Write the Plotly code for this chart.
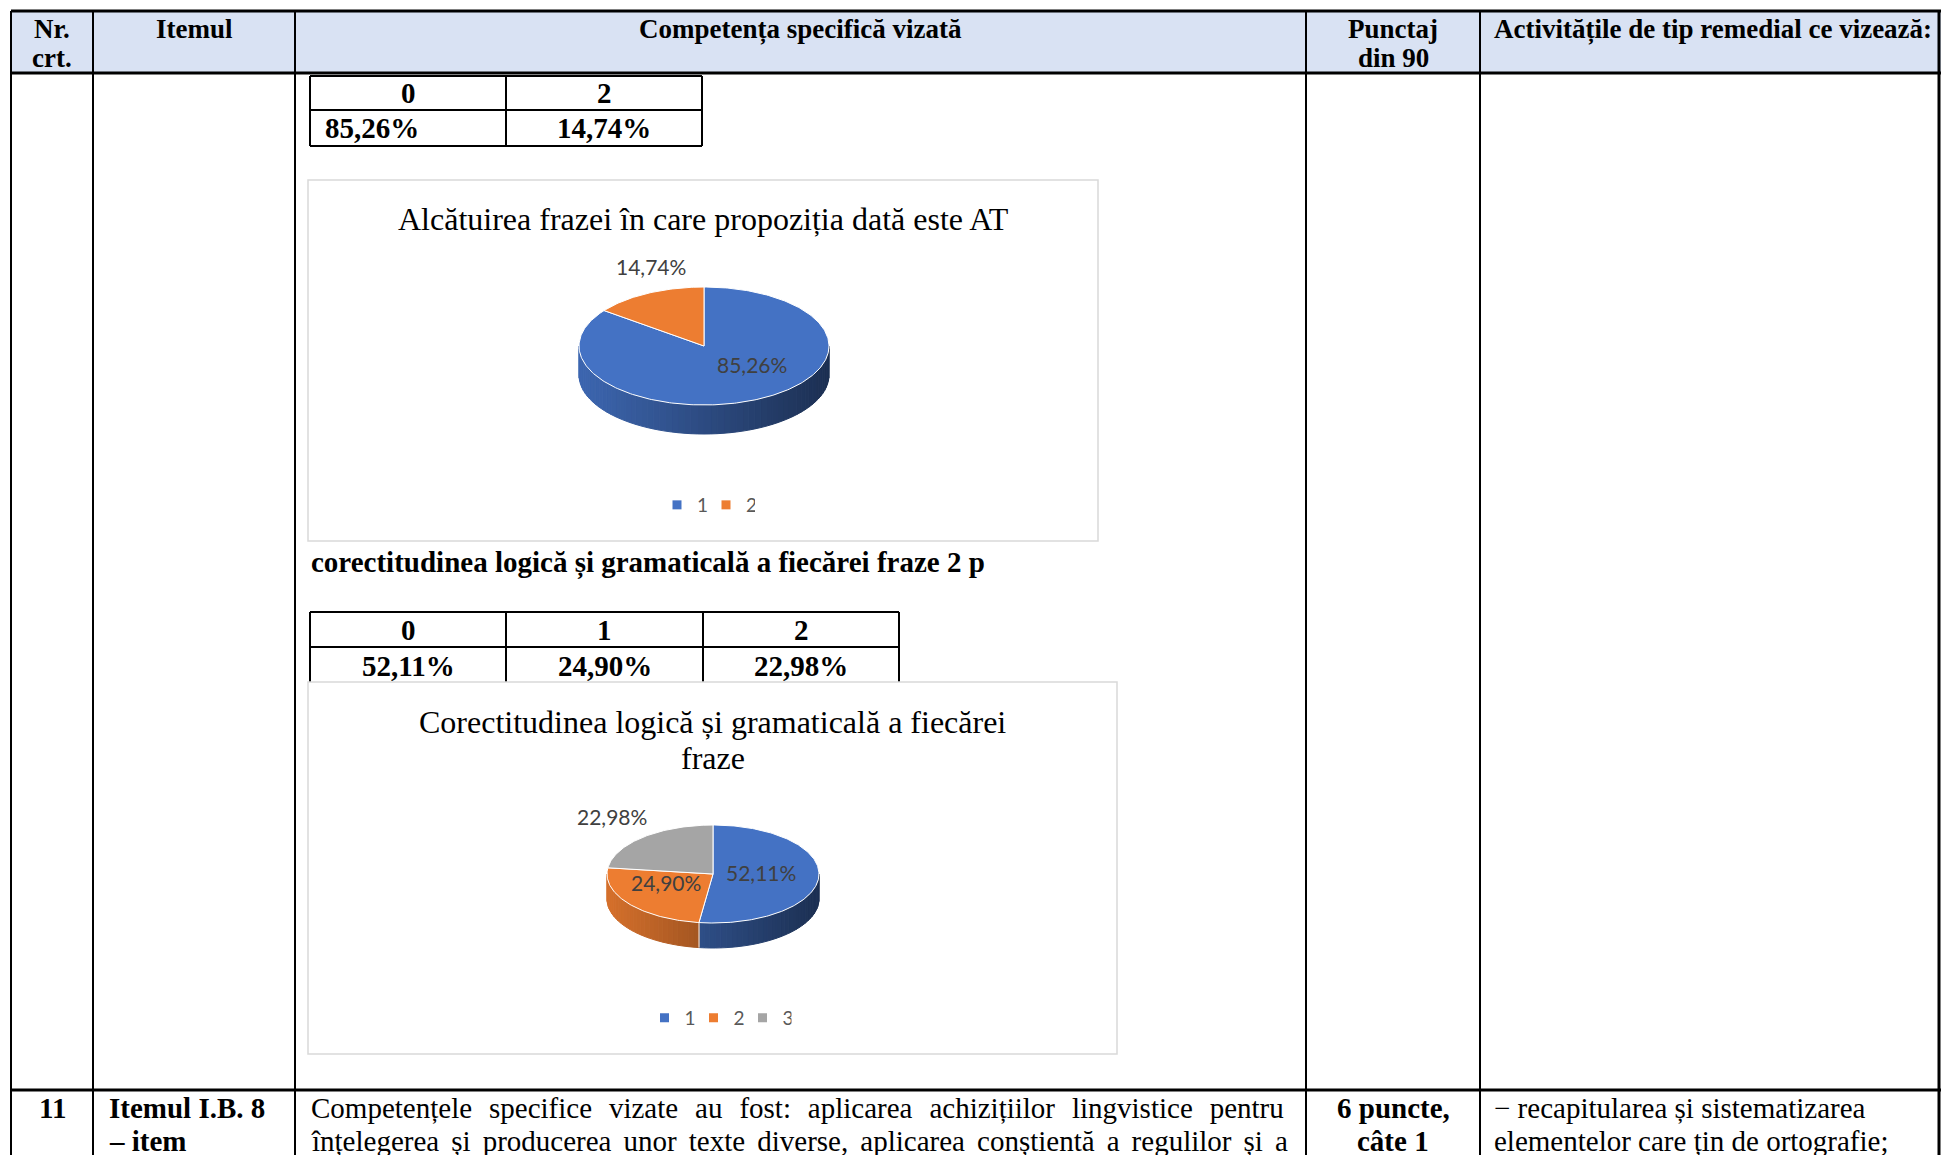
import numpy as np
import plotly.graph_objects as go

W, H = 1941, 1155

# ---------------- data ----------------
header_col1 = ["Nr.", "crt."]
header_col2 = ["Itemul"]
header_col3 = ["Competența specifică vizată"]
header_col4 = ["Punctaj", "din 90"]
header_col5 = ["Activitățile de tip remedial ce vizează:"]

table1_scores = ["0", "2"]
table1_percent = ["85,26%", "14,74%"]

chart1_title = "Alcătuirea frazei în care propoziția dată este AT"
chart1_categories = ["1", "2"]
chart1_values = [85.26, 14.74]

subheading = "corectitudinea logică și gramaticală a fiecărei fraze 2 p"

table2_scores = ["0", "1", "2"]
table2_percent = ["52,11%", "24,90%", "22,98%"]

chart2_title_lines = ["Corectitudinea logică și gramaticală a fiecărei", "fraze"]
chart2_categories = ["1", "2", "3"]
chart2_values = [52.11, 24.90, 22.98]

row11_nr = "11"
row11_item = ["Itemul I.B. 8", "– item"]
row11_comp = ["Competențele specifice vizate au fost: aplicarea achizițiilor lingvistice pentru",
              "înțelegerea și producerea unor texte diverse, aplicarea conștientă a regulilor și a"]
row11_points = ["6 puncte,", "câte 1"]
row11_remedial = ["− recapitularea și sistematizarea", "elementelor care țin de ortografie;"]

# ---------------- style ----------------
SERIF = "Liberation Serif"
SANS = "Lato"
PIE_COLORS = ["#4472C4", "#ED7D31", "#A5A5A5"]
HEADER_BG = "#D9E2F3"
FS_HEAD = 27
FS_BODY = 29
FS_TABLE = 29
# extra inter-word spacing used to imitate the justified paragraph
JUSTIFY_GAPS = ["\u2004", "\u2006"]

fig = go.Figure()
shapes = []
annotations = []


def line(x0, y0, x1, y1, w=2, color="black"):
    shapes.append(dict(type="line", x0=x0, y0=y0, x1=x1, y1=y1, xref="x", yref="y",
                       line=dict(color=color, width=w), layer="below"))


def rect(x0, y0, x1, y1, fill, lc="rgba(0,0,0,0)", lw=0):
    shapes.append(dict(type="rect", x0=x0, y0=y0, x1=x1, y1=y1, xref="x", yref="y",
                       fillcolor=fill, line=dict(color=lc, width=lw), layer="below"))


def text(x, y, t, size=FS_BODY, bold=False, family=SERIF, color="black", xanchor="center"):
    annotations.append(dict(x=x, y=y, xref="x", yref="y", text=f"<b>{t}</b>" if bold else t,
                            showarrow=False, xanchor=xanchor, yanchor="middle",
                            font=dict(family=family, size=size, color=color)))


# ---------------- main table ----------------
cols = [11, 93, 295, 1306, 1480, 1939]
top, head_bot, row_sep = 11, 73, 1090
rect(cols[0], top, W, head_bot, HEADER_BG)
for c in cols[:-1]:
    line(c, top, c, H, 2)
line(cols[-1], top, cols[-1], H, 3)
line(cols[0], top, W, top, 3)
line(cols[0], head_bot, W, head_bot, 3)
line(cols[0], row_sep, W, row_sep, 3)

# header texts
l1, l2 = 29, 58
text((cols[0] + cols[1]) / 2, l1, header_col1[0], size=FS_HEAD, bold=True)
text((cols[0] + cols[1]) / 2, l2, header_col1[1], size=FS_HEAD, bold=True)
text((cols[1] + cols[2]) / 2, l1, header_col2[0], size=FS_HEAD, bold=True)
text((cols[2] + cols[3]) / 2, l1, header_col3[0], size=FS_HEAD, bold=True)
text((cols[3] + cols[4]) / 2, l1, header_col4[0], size=FS_HEAD, bold=True)
text((cols[3] + cols[4]) / 2, l2, header_col4[1], size=FS_HEAD, bold=True)
text(cols[4] + 12, l1, header_col5[0], size=FS_HEAD, bold=True, xanchor="left")

# ---------------- small table 1 ----------------
t1x = [310, 506, 702]
t1y = [76, 110, 146]
line(t1x[0], t1y[0], t1x[-1], t1y[0], 2)
line(t1x[0], t1y[1], t1x[-1], t1y[1], 2)
line(t1x[0], t1y[2], t1x[-1], t1y[2], 2)
for x in t1x:
    line(x, t1y[0], x, t1y[2], 2)
for i, s in enumerate(table1_scores):
    text((t1x[i] + t1x[i + 1]) / 2, (t1y[0] + t1y[1]) / 2, s, size=FS_TABLE, bold=True)
text(t1x[0] + 13, (t1y[1] + t1y[2]) / 2, table1_percent[0], size=FS_TABLE, bold=True, xanchor="left")
text((t1x[1] + t1x[2]) / 2, (t1y[1] + t1y[2]) / 2, table1_percent[1], size=FS_TABLE, bold=True)

# subheading
text(309, 563, subheading, size=29, bold=True, xanchor="left")

# ---------------- small table 2 ----------------
t2x = [310, 506, 703, 899]
t2y = [612, 647, 682]
line(t2x[0], t2y[0], t2x[-1], t2y[0], 2)
line(t2x[0], t2y[1], t2x[-1], t2y[1], 2)
for x in t2x:
    line(x, t2y[0], x, t2y[2], 2)
for i, s in enumerate(table2_scores):
    text((t2x[i] + t2x[i + 1]) / 2, (t2y[0] + t2y[1]) / 2, s, size=FS_TABLE, bold=True)
for i, s in enumerate(table2_percent):
    text((t2x[i] + t2x[i + 1]) / 2, (t2y[1] + t2y[2]) / 2 + 1, s, size=FS_TABLE, bold=True)

# ---------------- chart boxes ----------------
box1 = (308, 180, 1098, 541)
box2 = (308, 682, 1117, 1054)
rect(*box1, "white", "#D9D9D9", 1.5)
rect(*box2, "white", "#D9D9D9", 1.5)

text((box1[0] + box1[2]) / 2, 219, chart1_title, size=32)
text((box2[0] + box2[2]) / 2, 722, chart2_title_lines[0], size=32)
text((box2[0] + box2[2]) / 2, 758, chart2_title_lines[1], size=32)


# ---------------- 3D-looking pies ----------------
def shade(hexcol, f):
    r, g, b = int(hexcol[1:3], 16), int(hexcol[3:5], 16), int(hexcol[5:7], 16)
    return f"rgb({int(r * f)},{int(g * f)},{int(b * f)})"


def pt(cx, cy, rx, ry, deg):
    a = np.radians(deg)
    return cx + rx * np.sin(a), cy - ry * np.cos(a)


def pie3d(values, cx, cy, rx, ry, depth):
    total = float(sum(values))
    bounds = np.concatenate([[0], np.cumsum(values)]) / total * 360.0
    # side walls (front half only: 90..270 deg clockwise from 12 o'clock)
    for i in range(len(values)):
        a0, a1 = bounds[i], bounds[i + 1]
        lo, hi = max(a0, 90.0), min(a1, 270.0)
        if lo >= hi:
            continue
        n = max(1, int(np.ceil((hi - lo) / 3.0)))
        edges = np.linspace(lo, hi, n + 1)
        for j in range(n):
            angs = np.linspace(edges[j], edges[j + 1], 4)
            xs, ys = pt(cx, cy, rx, ry, angs)
            xm = xs.mean()
            t = (xm - (cx - rx)) / (2 * rx)
            col = shade(PIE_COLORS[i], 0.9 - 0.48 * t)
            px = list(xs) + list(xs[::-1]) + [xs[0]]
            py = list(ys) + list((ys + depth)[::-1]) + [ys[0]]
            fig.add_trace(go.Scatter(x=px, y=py, mode="lines", fill="toself", fillcolor=col,
                                     line=dict(color=col, width=1), hoverinfo="skip",
                                     showlegend=False))
        # slice boundary on the side wall
        for b in (a0, a1):
            if 90.0 < b < 270.0:
                bx, by = pt(cx, cy, rx, ry, b)
                fig.add_trace(go.Scatter(x=[bx, bx], y=[by, by + depth], mode="lines",
                                         line=dict(color="rgba(255,255,255,0.8)", width=1),
                                         hoverinfo="skip", showlegend=False))
    # top faces
    for i in range(len(values)):
        a0, a1 = bounds[i], bounds[i + 1]
        angs = np.linspace(a0, a1, max(3, int(a1 - a0) + 2))
        xs, ys = pt(cx, cy, rx, ry, angs)
        px = [cx] + list(xs) + [cx]
        py = [cy] + list(ys) + [cy]
        fig.add_trace(go.Scatter(x=px, y=py, mode="lines", fill="toself",
                                 fillcolor=PIE_COLORS[i],
                                 line=dict(color="white", width=1), hoverinfo="skip",
                                 showlegend=False))


def fmt(v):
    return f"{v:.2f}%".replace(".", ",")


pie3d(chart1_values, 704, 346, 125, 59, 29)
pie3d(chart2_values, 713, 874, 106, 49, 25)

label_pos1 = [(752, 364), (651, 266)]
label_pos2 = [(761, 872), (666, 882), (612, 816)]
for v, (x, y) in zip(chart1_values, label_pos1):
    text(x, y, fmt(v), size=21, family=SANS, color="#404040")
for v, (x, y) in zip(chart2_values, label_pos2):
    text(x, y, fmt(v), size=21, family=SANS, color="#404040")

# legends
for i, c in enumerate(chart1_categories):
    fig.add_trace(go.Scatter(x=[None], y=[None], mode="markers", name=c, legend="legend",
                             marker=dict(symbol="square", size=9, color=PIE_COLORS[i])))
for i, c in enumerate(chart2_categories):
    fig.add_trace(go.Scatter(x=[None], y=[None], mode="markers", name=c, legend="legend2",
                             marker=dict(symbol="square", size=9, color=PIE_COLORS[i])))

leg_common = dict(orientation="h", xanchor="center", yanchor="middle",
                  font=dict(family=SANS, size=19, color="#595959"),
                  bgcolor="rgba(0,0,0,0)", itemwidth=30, traceorder="normal",
                  entrywidth=4, entrywidthmode="pixels")

# ---------------- row 11 ----------------
r1, r2 = 1108, 1141
text((cols[0] + cols[1]) / 2, r1, row11_nr, bold=True)
text(cols[1] + 14, r1, row11_item[0], bold=True, xanchor="left")
text(cols[1] + 14, r2, row11_item[1], bold=True, xanchor="left")
for ln, gap, yy in zip(row11_comp, JUSTIFY_GAPS, (r1, r2)):
    text(cols[2] + 14, yy, ln.replace(" ", " " + gap), xanchor="left")
text((cols[3] + cols[4]) / 2, r1, row11_points[0], bold=True)
text((cols[3] + cols[4]) / 2, r2, row11_points[1], bold=True)
text(cols[4] + 12, r1, row11_remedial[0], xanchor="left")
text(cols[4] + 12, r2, row11_remedial[1], xanchor="left")

fig.update_layout(
    width=W, height=H, margin=dict(l=0, r=0, t=0, b=0),
    paper_bgcolor="white", plot_bgcolor="white",
    xaxis=dict(range=[0, W], visible=False, fixedrange=True),
    yaxis=dict(range=[H, 0], visible=False, fixedrange=True),
    shapes=shapes, annotations=annotations, showlegend=True,
    legend=dict(x=706 / W, y=1 - 505 / H, **leg_common),
    legend2=dict(x=718 / W, y=1 - 1018 / H, **leg_common),
)

fig.write_html("out.html", config={"displayModeBar": False},
               post_script="document.body.style.margin='0';document.body.style.overflow='hidden';")
